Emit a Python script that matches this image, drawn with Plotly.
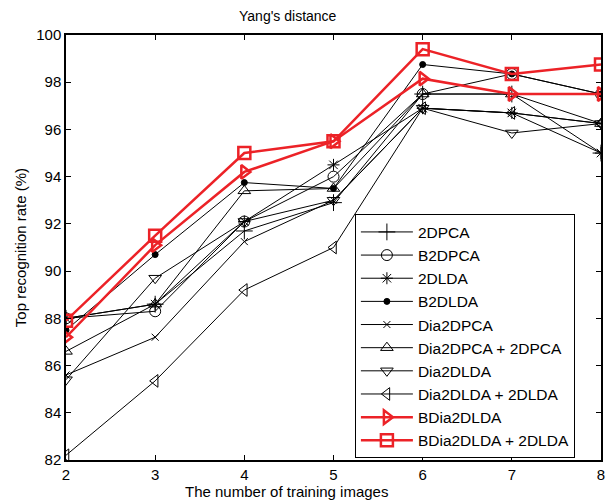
import plotly.graph_objects as go

x_vals = [2, 3, 4, 5, 6, 7, 8]

names = ["2DPCA", "B2DPCA", "2DLDA", "B2DLDA", "Dia2DPCA", "Dia2DPCA + 2DPCA",
         "Dia2DLDA", "Dia2DLDA + 2DLDA", "BDia2DLDA", "BDia2DLDA + 2DLDA"]

s_2dpca = [88.0, 88.6, 91.7, 92.9, 97.5, 97.5, 95.0]
s_b2dpca = [88.0, 88.3, 92.1, 94.0, 97.5, 98.35, 97.5]
s_2dlda = [88.0, 88.6, 92.1, 94.5, 96.9, 96.7, 95.0]
s_b2dlda = [87.5, 90.7, 93.75, 93.5, 98.75, 98.35, 97.5]
s_dia2dpca = [85.6, 87.2, 91.25, 93.0, 96.9, 96.7, 96.25]
s_dia2dpca_2dpca = [86.6, 88.6, 93.4, 93.5, 97.5, 97.5, 96.25]
s_dia2dlda = [85.4, 89.7, 92.1, 93.0, 96.9, 95.85, 96.25]
s_dia2dlda_2dlda = [82.2, 85.35, 89.2, 91.0, 96.9, 96.7, 96.25]
s_bdia2dlda = [87.2, 91.1, 94.2, 95.5, 98.15, 97.5, 97.5]
s_bdia2dlda_2dlda = [87.9, 91.5, 95.0, 95.5, 99.4, 98.35, 98.75]

series = [s_2dpca, s_b2dpca, s_2dlda, s_b2dlda, s_dia2dpca, s_dia2dpca_2dpca,
          s_dia2dlda, s_dia2dlda_2dlda, s_bdia2dlda, s_bdia2dlda_2dlda]

symbols = ["cross-thin-open", "circle-open", "asterisk-open", "circle", "x-thin-open",
           "triangle-up-open", "triangle-down-open", "triangle-left-open",
           "triangle-right-open", "square-open"]
sizes = [12, 11, 10, 6, 7, 11, 11, 11, 12, 12]

RED = "#ec2227"

fig = go.Figure()
for i, (nm, ys) in enumerate(zip(names, series)):
    red = i >= 8
    col = RED if red else "black"
    fig.add_trace(go.Scatter(
        x=x_vals, y=ys, name=nm, mode="lines+markers",
        line=dict(color=col, width=2.5 if red else 1),
        marker=dict(symbol=symbols[i], size=sizes[i], color=col,
                    line=dict(color=col, width=2.5 if red else 1)),
    ))

font = dict(family="Liberation Sans, Arial, sans-serif", size=14, color="black")

fig.update_layout(
    width=607, height=504,
    margin=dict(l=66, r=2, t=35, b=44),
    paper_bgcolor="white", plot_bgcolor="white",
    font=font,
    title=dict(text="Yang's distance", x=0.474, xanchor="center", y=0.968, yanchor="middle",
               font=dict(size=14)),
    showlegend=True,
    legend=dict(x=0.54, y=0.578, xanchor="left", yanchor="top",
                bgcolor="white", bordercolor="black", borderwidth=1,
                font=dict(size=15.5), itemwidth=52, tracegroupgap=0),
    xaxis=dict(range=[2, 8], tickvals=x_vals, showgrid=False, zeroline=False,
               showline=True, linecolor="black", linewidth=1.5, mirror="allticks",
               ticks="inside", ticklen=5, tickcolor="black", ticklabeloverflow="allow",
               tickfont=dict(size=15)),
    yaxis=dict(range=[82, 100], tickvals=list(range(82, 101, 2)), showgrid=False, zeroline=False,
               showline=True, linecolor="black", linewidth=1.5, mirror="allticks",
               ticks="inside", ticklen=5, tickcolor="black",
               title=dict(text="Top recognition rate (%)", standoff=6, font=dict(size=15)),
               tickfont=dict(size=15)),
    annotations=[dict(text="The number of training images", xref="paper", yref="paper",
                      x=(288 - 66) / 539, y=-0.075, xanchor="center", yanchor="middle",
                      showarrow=False, font=dict(size=15))],
)

fig.write_html("out.html")
